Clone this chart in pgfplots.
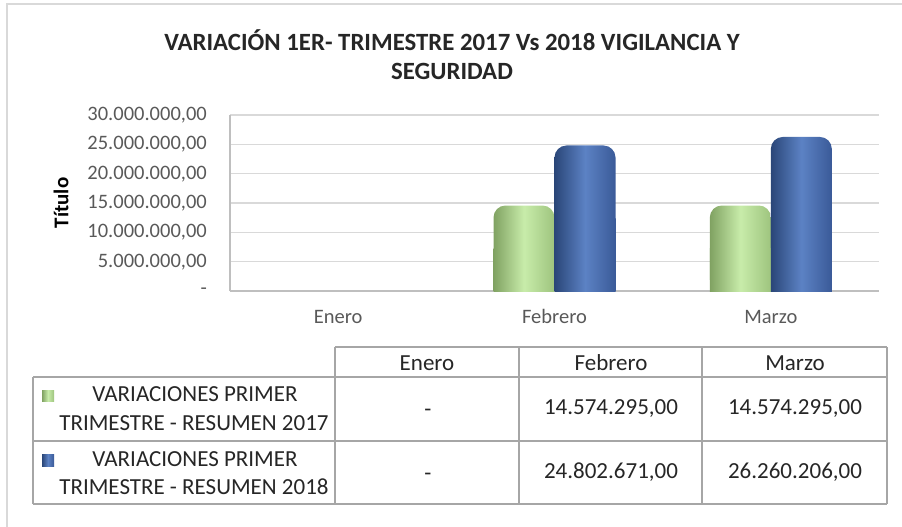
\documentclass[border=0pt]{standalone}
\usepackage{fontspec}
\setmainfont{Carlito}
\usepackage{pgfplots}
\usepackage{pgfplotstable}
\pgfplotsset{compat=1.18}

\definecolor{gridgray}{RGB}{217,217,217}
\definecolor{axgray}{RGB}{191,191,191}
\definecolor{txtgray}{RGB}{89,89,89}
\definecolor{tblline}{RGB}{166,166,166}
\definecolor{gDark}{RGB}{128,162,98}
\definecolor{gLight}{RGB}{200,236,170}
\definecolor{gRight}{RGB}{158,196,126}
\definecolor{bDark}{RGB}{42,70,120}
\definecolor{bLight}{RGB}{92,130,196}
\definecolor{bRight}{RGB}{58,90,152}

% mes, 2017, 2018
\pgfplotstableread{
x a b
0 0 0
1 14574295 24802671
2 14574295 26260206
}\datos

\tikzset{
  tbl/.style={font=\fontsize{23}{28}\selectfont, text=black!85, inner sep=0pt, anchor=base},
  verde/.style={left color=gDark, right color=gRight, middle color=gLight},
  azul/.style={left color=bDark, right color=bRight, middle color=bLight},
}
\pgfplotsset{
  barra/.style={ybar, bar width=61pt, draw=none, forget plot},
}

\begin{document}
\begin{tikzpicture}
\useasboundingbox (0,0) rectangle (902pt,-527pt);
\draw[gridgray, line width=1.5pt] (7pt,-527pt) -- (7pt,-4pt) -- (902pt,-4pt);

\node[font=\bfseries\fontsize{24.8}{28}\selectfont, text=black!85, anchor=base, inner sep=0pt]
  at (452pt,-51pt) {VARIACIÓN 1ER- TRIMESTRE 2017 Vs 2018 VIGILANCIA Y};
\node[font=\bfseries\fontsize{24.8}{28}\selectfont, text=black!85, anchor=base, inner sep=0pt]
  at (452pt,-80pt) {SEGURIDAD};

\begin{axis}[
    at={(230pt,-291pt)}, anchor=south west,
    scale only axis, width=649pt, height=176pt,
    xmin=-0.5, xmax=2.5,
    ymin=0, ymax=30000000,
    xtick={0,1,2},
    xticklabels={Enero,Febrero,Marzo},
    ytick={0,5000000,10000000,15000000,20000000,25000000,30000000},
    yticklabels={-,{5.000.000,00},{10.000.000,00},{15.000.000,00},{20.000.000,00},{25.000.000,00},{30.000.000,00}},
    scaled y ticks=false,
    ymajorgrids,
    grid style={gridgray, line width=1.3pt},
    axis x line*=bottom, axis y line*=left,
    axis line style={-, draw=axgray, line width=1.3pt},
    major tick length=0pt,
    tick label style={font=\fontsize{20.5}{24}\selectfont, text=txtgray},
    yticklabel style={anchor=east, inner sep=0pt, xshift=-23pt},
    xticklabel style={anchor=base, inner sep=0pt, yshift=-32pt},
    ylabel={Título},
    every axis y label/.style={at={(rel axis cs:-0.2604,0.5)}, rotate=90, anchor=center,
      font=\bfseries\fontsize{21}{24}\selectfont},
]
% one plot per bar so each bar gets its own cylinder shading
\pgfplotsinvokeforeach{1,2}{
  \addplot[barra, bar shift=-30.5pt, verde, rounded corners=12pt, restrict x to domain=#1:#1]
    table[x=x, y=a] {\datos};
  \addplot[barra, bar shift=30.5pt, azul, rounded corners=12pt, restrict x to domain=#1:#1]
    table[x=x, y=b] {\datos};
  % square lower half, so only the top is rounded
  \addplot[barra, bar shift=-30.5pt, verde, sharp corners, restrict x to domain=#1:#1]
    table[x=x, y expr=0.5*\thisrow{a}] {\datos};
  \addplot[barra, bar shift=30.5pt, azul, sharp corners, restrict x to domain=#1:#1]
    table[x=x, y expr=0.5*\thisrow{b}] {\datos};
}
\end{axis}

% tabla de datos
\begin{scope}[tblline, line width=1.2pt]
\draw (335pt,-347pt) -- (887pt,-347pt);
\draw (33pt,-377pt) -- (887pt,-377pt);
\draw (33pt,-441pt) -- (887pt,-441pt);
\draw (33pt,-504pt) -- (887pt,-504pt);
\draw (33pt,-377pt) -- (33pt,-504pt);
\foreach \xx in {335,519,702,887} \draw (\xx pt,-347pt) -- (\xx pt,-504pt);
\end{scope}

\node[tbl] at (427pt,-370pt) {Enero};
\node[tbl] at (611pt,-370pt) {Febrero};
\node[tbl] at (795pt,-370pt) {Marzo};

\fill[verde] (42pt,-390pt) rectangle (54pt,-401pt);
\node[tbl] at (195pt,-401pt) {VARIACIONES PRIMER};
\node[tbl] at (194pt,-430pt) {TRIMESTRE - RESUMEN 2017};
\node[tbl] at (428pt,-416pt) {-};
\node[tbl] at (611pt,-414pt) {14.574.295,00};
\node[tbl] at (795pt,-414pt) {14.574.295,00};

\fill[azul] (42pt,-454pt) rectangle (54pt,-466pt);
\node[tbl] at (195pt,-466pt) {VARIACIONES PRIMER};
\node[tbl] at (194pt,-494pt) {TRIMESTRE - RESUMEN 2018};
\node[tbl] at (428pt,-480pt) {-};
\node[tbl] at (611pt,-478pt) {24.802.671,00};
\node[tbl] at (795pt,-478pt) {26.260.206,00};
\end{tikzpicture}
\end{document}
